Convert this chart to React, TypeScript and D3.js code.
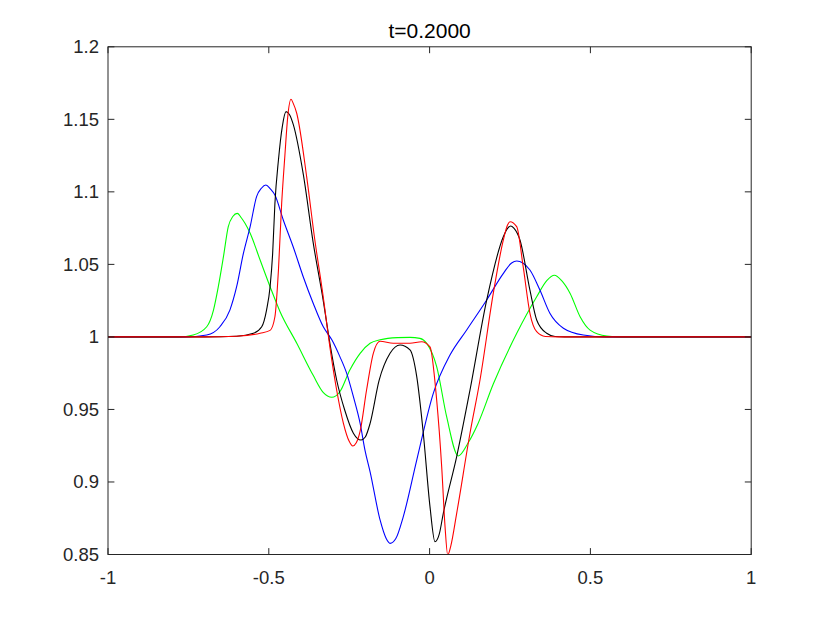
import React from "react";
import * as d3 from "d3";

const W = 830;
const H = 623;
const M = { left: 108, right: 751.2, top: 46.8, bottom: 554.5 };

const xTicks = [-1, -0.5, 0, 0.5, 1];
const yTicks = [0.85, 0.9, 0.95, 1, 1.05, 1.1, 1.15, 1.2];
const title = "t=0.2000";

const greenX = [-1, -0.78, -0.735, -0.693, -0.672, -0.657, -0.641, -0.626, -0.612, -0.598, -0.585, -0.574, -0.558, -0.527, -0.496, -0.465, -0.413, -0.362, -0.331, -0.304, -0.279, -0.248, -0.216, -0.185, -0.154, -0.1, -0.061, -0.03, -0.009, 0.022, 0.053, 0.0893, 0.12, 0.15, 0.198, 0.271, 0.333, 0.365, 0.388, 0.41, 0.437, 0.468, 0.499, 0.551, 0.6, 1];
const greenY = [1, 1, 1.0013, 1.007, 1.0185, 1.0346, 1.0553, 1.076, 1.083, 1.0852, 1.082, 1.0783, 1.0714, 1.053, 1.0346, 1.0174, 0.9956, 0.9735, 0.9618, 0.9584, 0.9622, 0.9772, 0.9887, 0.9956, 0.998, 0.9995, 0.9997, 0.999, 0.9955, 0.9795, 0.945, 0.9179, 0.927, 0.94, 0.9675, 1.0025, 1.0277, 1.039, 1.0425, 1.039, 1.03, 1.0139, 1.0047, 1.0006, 1, 1];

const blueX = [-1, -0.76, -0.693, -0.652, -0.621, -0.6, -0.579, -0.558, -0.538, -0.523, -0.509, -0.495, -0.481, -0.455, -0.424, -0.393, -0.362, -0.331, -0.304, -0.279, -0.258, -0.237, -0.216, -0.201, -0.185, -0.154, -0.135, -0.123, -0.105, -0.082, -0.04, 0.0115, 0.0634, 0.1153, 0.1775, 0.23, 0.255, 0.271, 0.29, 0.312, 0.343, 0.374, 0.416, 0.478, 0.55, 1];
const blueY = [1, 1, 1.0013, 1.007, 1.0185, 1.0346, 1.0576, 1.076, 1.0967, 1.1025, 1.1047, 1.102, 1.0978, 1.0806, 1.062, 1.0415, 1.0232, 1.0071, 0.998, 0.9864, 0.975, 0.9588, 0.9404, 0.922, 0.907, 0.8738, 0.861, 0.8577, 0.861, 0.876, 0.9151, 0.9611, 0.9875, 1.0048, 1.0255, 1.044, 1.051, 1.0523, 1.051, 1.0461, 1.0323, 1.0163, 1.006, 1.0013, 1, 1];

const blackX = [-1, -0.7, -0.6, -0.548, -0.522, -0.507, -0.496, -0.488, -0.481, -0.47, -0.458, -0.4465, -0.435, -0.424, -0.3927, -0.362, -0.331, -0.31, -0.289, -0.264, -0.237, -0.2133, -0.2, -0.185, -0.157, -0.123, -0.092, -0.061, -0.04, -0.0196, 0.0012, 0.0168, 0.03, 0.0426, 0.0842, 0.1256, 0.1775, 0.2292, 0.243, 0.252, 0.262, 0.281, 0.312, 0.333, 0.364, 0.39, 0.42, 1];
const blackY = [1, 1, 1.0005, 1.0025, 1.007, 1.0185, 1.0346, 1.0576, 1.092, 1.122, 1.145, 1.1553, 1.153, 1.1465, 1.112, 1.065, 1.0254, 0.9956, 0.9703, 0.9496, 0.9336, 0.9289, 0.931, 0.9404, 0.97, 0.9887, 0.9944, 0.991, 0.9726, 0.9336, 0.883, 0.8588, 0.864, 0.8784, 0.9175, 0.9634, 1.0254, 1.0691, 1.075, 1.0765, 1.075, 1.0668, 1.0323, 1.0117, 1.0025, 1.0003, 1, 1];

const redX = [-1, -0.7, -0.6, -0.527, -0.496, -0.481, -0.47, -0.46, -0.45, -0.441, -0.431, -0.424, -0.4132, -0.382, -0.3576, -0.331, -0.31, -0.289, -0.268, -0.25, -0.239, -0.228, -0.216, -0.196, -0.175, -0.154, -0.113, -0.061, -0.025, 0.0012, 0.022, 0.0376, 0.048, 0.0563, 0.066, 0.0842, 0.1256, 0.1567, 0.198, 0.2292, 0.242, 0.25, 0.2708, 0.291, 0.312, 0.333, 0.36, 0.4, 1];
const redY = [1, 1, 1.0005, 1.0025, 1.0045, 1.0139, 1.0461, 1.092, 1.125, 1.152, 1.1638, 1.161, 1.1542, 1.11, 1.068, 1.028, 0.993, 0.9634, 0.9404, 0.928, 0.9248, 0.927, 0.935, 0.9634, 0.9887, 0.997, 0.9956, 0.9956, 0.9967, 0.9932, 0.9565, 0.9105, 0.8692, 0.8497, 0.856, 0.8784, 0.9336, 0.9703, 1.03, 1.0668, 1.077, 1.0794, 1.076, 1.0484, 1.0163, 1.0036, 1.0003, 1, 1];

const series = [
  { xs: greenX, ys: greenY, color: "#00ff00" },
  { xs: blueX, ys: blueY, color: "#0000ff" },
  { xs: blackX, ys: blackY, color: "#000000" },
  { xs: redX, ys: redY, color: "#ff0000" },
];

export default function App() {
  const x = d3.scaleLinear().domain([-1, 1]).range([M.left, M.right]);
  const y = d3.scaleLinear().domain([0.85, 1.2]).range([M.bottom, M.top]);
  const line = d3
    .line<[number, number]>()
    .x((d) => x(d[0]))
    .y((d) => y(d[1]))
    .curve(d3.curveMonotoneX);
  const axisColor = "#262626";
  const tl = 6.4;
  const font = "'Liberation Sans', Arial, Helvetica, sans-serif";
  return (
    <svg
      width={W}
      height={H}
      style={{ position: "absolute", left: 0, top: 0, background: "#fff" }}
    >
      <rect x={0} y={0} width={W} height={H} fill="#fff" />
      <defs>
        <clipPath id="plotclip">
          <rect x={M.left} y={M.top} width={M.right - M.left} height={M.bottom - M.top} />
        </clipPath>
      </defs>
      <g clipPath="url(#plotclip)">
        {series.map((s, i) => (
          <path
            key={i}
            d={line(s.xs.map((v, j) => [v, s.ys[j]] as [number, number])) || ""}
            fill="none"
            stroke={s.color}
            strokeWidth={1.1}
          />
        ))}
      </g>
      <rect
        x={M.left}
        y={M.top}
        width={M.right - M.left}
        height={M.bottom - M.top}
        fill="none"
        stroke={axisColor}
        strokeWidth={1}
      />
      {xTicks.map((t) => (
        <g key={"x" + t}>
          <line x1={x(t)} x2={x(t)} y1={M.bottom} y2={M.bottom - tl} stroke={axisColor} />
          <line x1={x(t)} x2={x(t)} y1={M.top} y2={M.top + tl} stroke={axisColor} />
          <text
            x={x(t)}
            y={M.bottom + 29.5}
            textAnchor="middle"
            fontFamily={font}
            fontSize={18.5}
            fill={axisColor}
          >
            {String(t)}
          </text>
        </g>
      ))}
      {yTicks.map((t) => (
        <g key={"y" + t}>
          <line x1={M.left} x2={M.left + tl} y1={y(t)} y2={y(t)} stroke={axisColor} />
          <line x1={M.right} x2={M.right - tl} y1={y(t)} y2={y(t)} stroke={axisColor} />
          <text
            x={M.left - 9}
            y={y(t) + 6.5}
            textAnchor="end"
            fontFamily={font}
            fontSize={18.5}
            fill={axisColor}
          >
            {String(t)}
          </text>
        </g>
      ))}
      <text
        x={(M.left + M.right) / 2}
        y={38.3}
        textAnchor="middle"
        fontFamily={font}
        fontSize={21}
        fill="#000"
      >
        {title}
      </text>
    </svg>
  );
}
